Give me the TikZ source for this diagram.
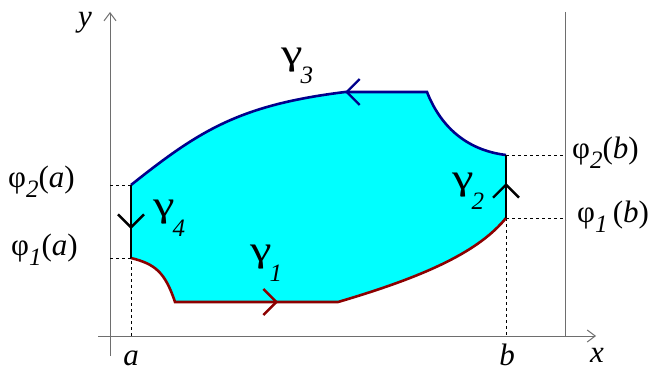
\documentclass[tikz,border=0pt]{standalone}
\usepackage{fontspec}
\setmainfont{Liberation Serif}
\usetikzlibrary{arrows.meta}
\definecolor{RegionColor}{RGB}{0, 255, 255}
\definecolor{UpperColor}{RGB}{0, 0, 140}
\definecolor{LowerColor}{RGB}{140, 0, 0}
\definecolor{AxisColor}{RGB}{110, 110, 110}
% lowered italic index, same look as the reference labels
\newcommand{\lowidx}[2]{\raisebox{-#1}{\fontsize{25}{25}\selectfont\textit{#2}}}
% wide upright gamma with its index
\newcommand{\gam}[1]{{\fontsize{36}{36}\selectfont\scalebox{1.35}[1]{γ}}\kern-2pt\lowidx{20pt}{#1}}

\begin{document}
\begin{tikzpicture}[
    x=1pt, y=-1pt, % pixel-like coordinates, y grows downward
    lbl/.style={font=\fontsize{31}{36}\selectfont, inner sep=0pt},
    axis/.style={AxisColor, line width=1pt},
    helper/.style={dashed, line width=0.7pt},
    border/.style={line width=2.6pt},
    chevron/.style={-{Straight Barb[length=13pt, width=26pt]}, line width=2.4pt}
]
\useasboundingbox (0,0) rectangle (648,369);

% --- Corner points of the region ---
\coordinate (A1) at (131,258);
\coordinate (A2) at (131,185);
\coordinate (B1) at (506,218);
\coordinate (B2) at (506,155);

% --- Filled region ---
\fill[RegionColor] (A1) .. controls (155,264) and (165,272) .. (175,302) -- (338,302)
    .. controls (430,275) and (480,250) .. (B1) -- (B2)
    .. controls (465,150) and (440,125) .. (427,92) -- (345,92)
    .. controls (240,105) and (200,130) .. (A2) -- cycle;

% --- Axes (gray) ---
\draw[axis, -{Straight Barb[length=8pt, width=12pt]}] (98,336) -- (596,336);
\draw[axis, -{Straight Barb[length=8pt, width=12pt]}] (110,356) -- (110,12);
\draw[axis] (565,12) -- (565,336);

% --- Dashed helper lines ---
\draw[helper] (110,185) -- (A2);
\draw[helper] (110,258) -- (A1) -- (131,336);
\draw[helper] (B2) -- (565,155);
\draw[helper] (B1) -- (565,218);
\draw[helper] (B1) -- (506,336);

% --- Boundary pieces ---
\draw[border, LowerColor] (A1) .. controls (155,264) and (165,272) .. (175,302) -- (338,302)
    .. controls (430,275) and (480,250) .. (B1);
\draw[border, UpperColor] (B2) .. controls (465,150) and (440,125) .. (427,92) -- (345,92)
    .. controls (240,105) and (200,130) .. (A2);
\draw[border] (A2) -- (A1);
\draw[border] (B1) -- (B2);

% --- Direction marks ---
\draw[chevron, LowerColor] (262,302) -- (278,302);
\draw[chevron, UpperColor] (362,92) -- (345,92);
\draw[chevron] (131,212) -- (131,229);
\draw[chevron] (506,200) -- (506,183);

% --- Labels ---
\node[lbl, anchor=base] (ylab) at (85,27) {\textit{y}};
\node[lbl, anchor=base] (xlab) at (597,362) {\textit{x}};
\node[lbl, anchor=base] (alab) at (131,365) {\textit{a}};
\node[lbl, anchor=base] (blab) at (507,365) {\textit{b}};

\node[lbl, anchor=base west] (gamma3) at (281,64) {\gam{3}};
\node[lbl, anchor=base west] (gamma1) at (250,261) {\gam{1}};
\node[lbl, anchor=base west] (gamma4) at (153,216) {\gam{4}};
\node[lbl, anchor=base west] (gamma2) at (452,189) {\gam{2}};

\node[lbl, anchor=base west] (phi2a) at (8,187) {φ\lowidx{10pt}{2}(\textit{a})};
\node[lbl, anchor=base west] (phi1a) at (11,255) {φ\lowidx{10pt}{1}(\textit{a})};
\node[lbl, anchor=base west] (phi2b) at (572,158) {φ\lowidx{10pt}{2}(\textit{b})};
\node[lbl, anchor=base west] (phi1b) at (577,222) {φ\lowidx{10pt}{1}\,(\textit{b})};

\end{tikzpicture}
\end{document}
